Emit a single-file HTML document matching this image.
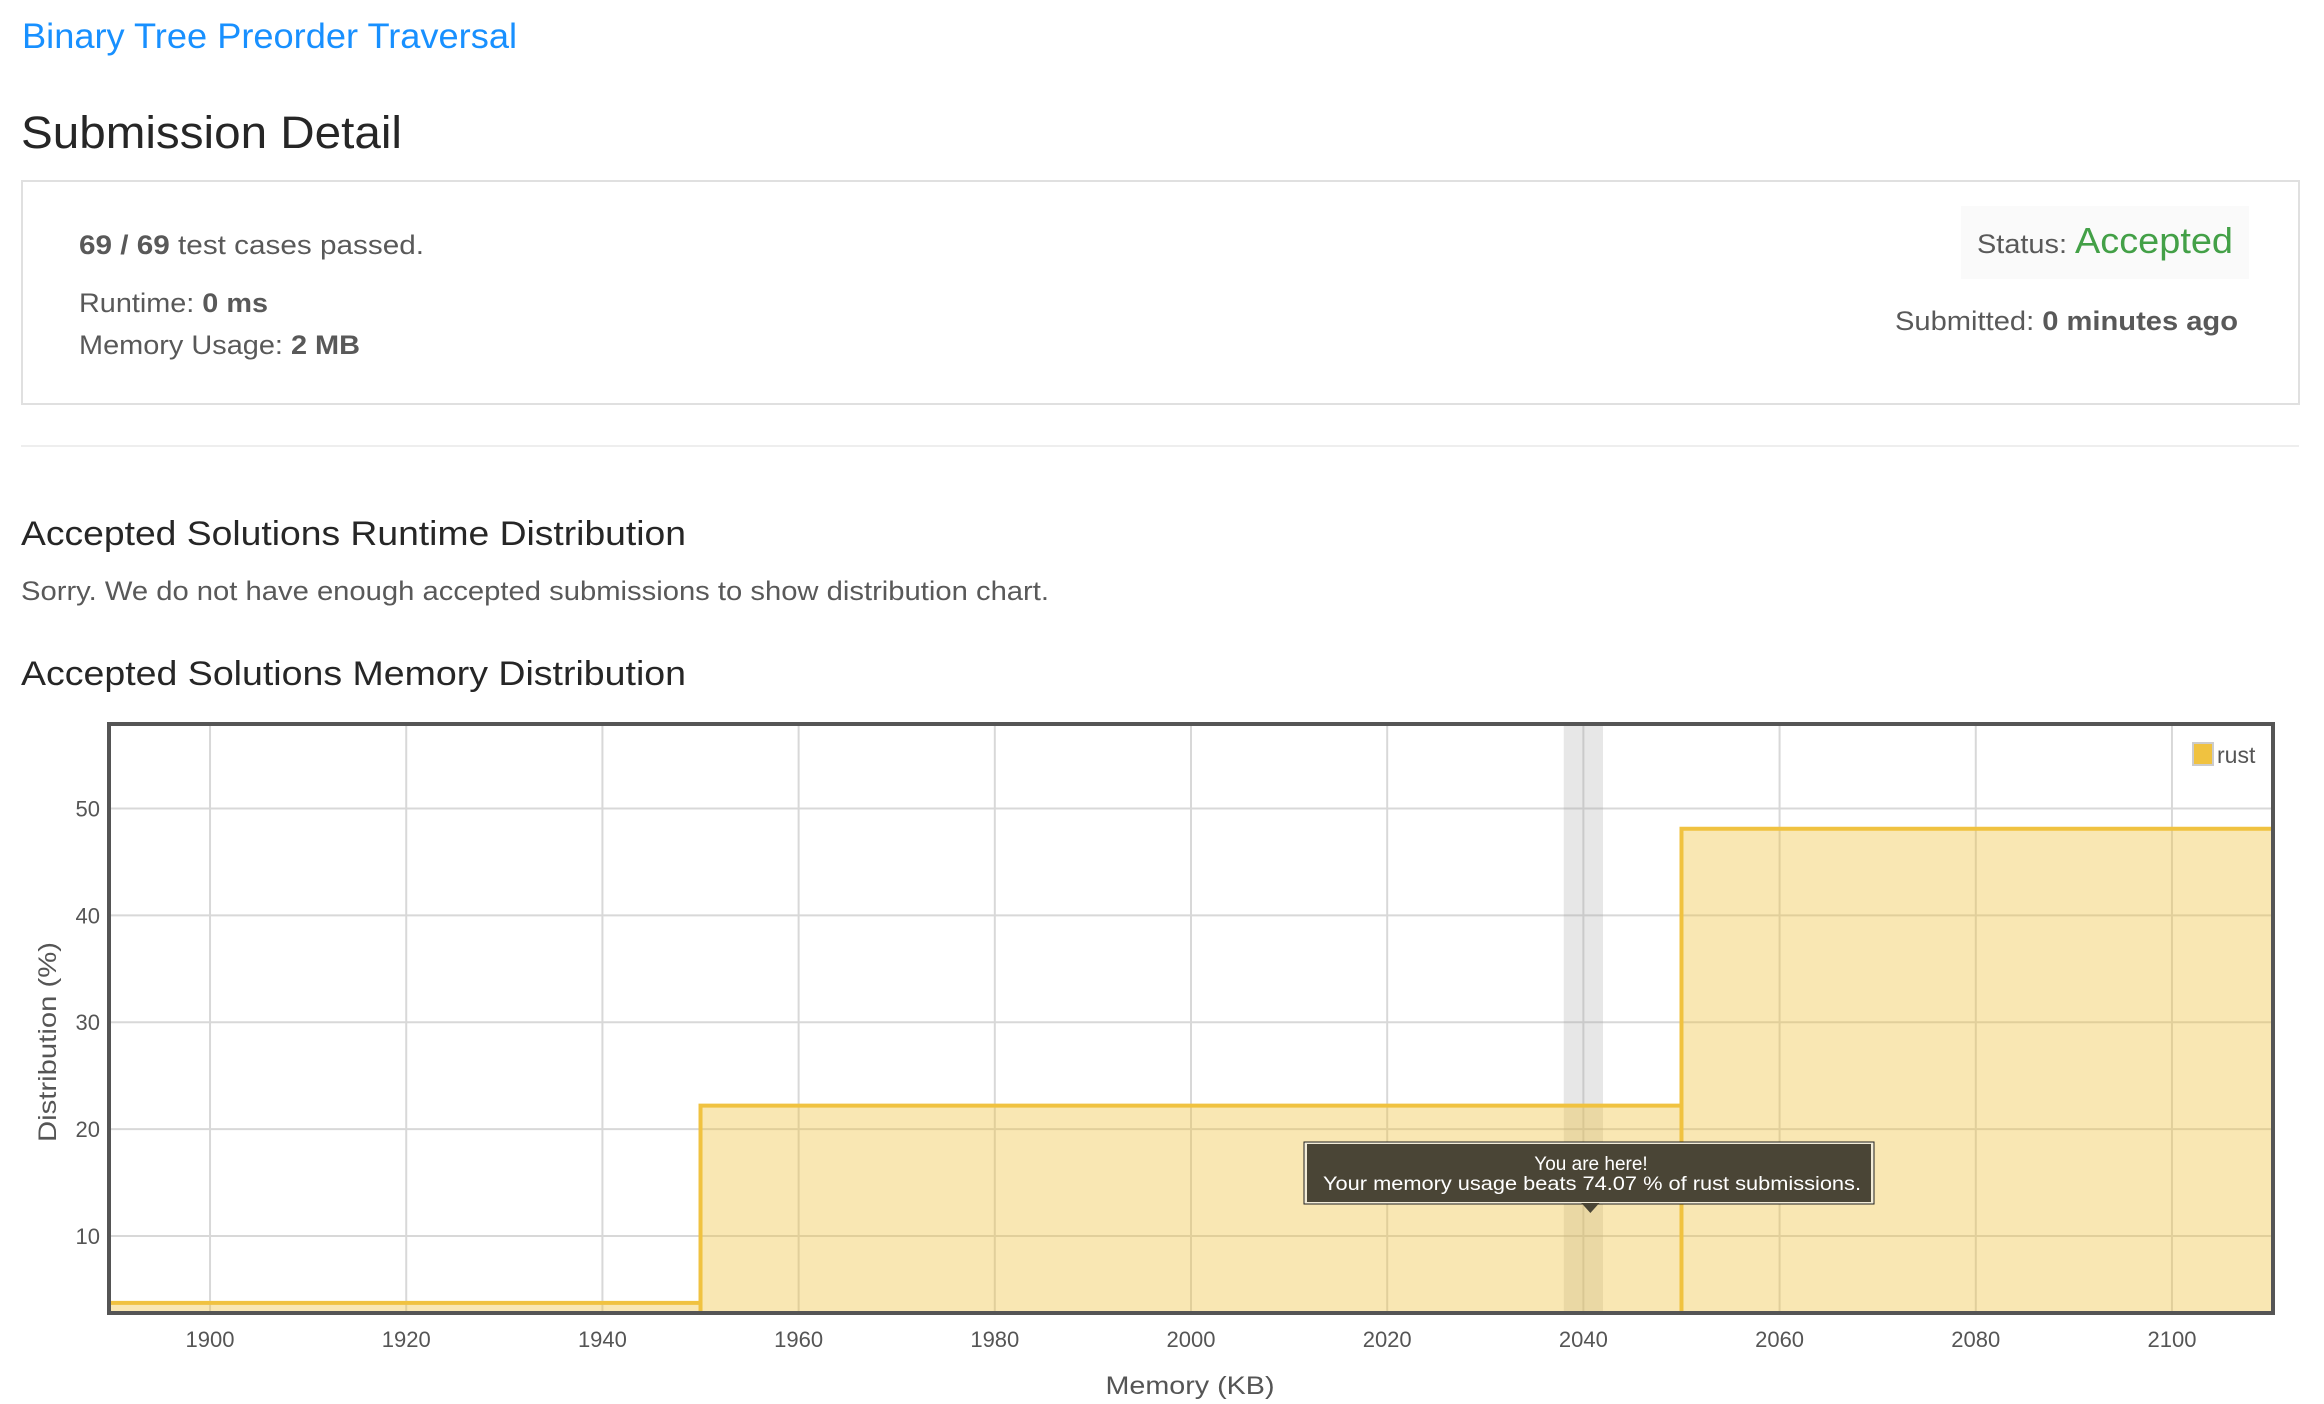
<!DOCTYPE html>
<html><head><meta charset="utf-8"><style>
html,body{margin:0;padding:0;background:#fff;}
svg{display:block;font-family:"Liberation Sans",sans-serif;}
</style></head><body>
<svg id="page" width="2324" height="1404" viewBox="0 0 2324 1404">
<text x="22" y="48" font-size="35" fill="#1890ff" textLength="495" lengthAdjust="spacingAndGlyphs">Binary Tree Preorder Traversal</text>
<text x="21" y="148" font-size="45" fill="#262626" textLength="381" lengthAdjust="spacingAndGlyphs">Submission Detail</text>
<rect x="22" y="181" width="2277" height="223" fill="#fff" stroke="#e0e0e0" stroke-width="2"/>
<text x="79" y="254" font-size="27" fill="#595959" textLength="345" lengthAdjust="spacingAndGlyphs"><tspan font-weight="bold">69 / 69</tspan> test cases passed.</text>
<text x="79" y="312" font-size="27" fill="#595959" textLength="189" lengthAdjust="spacingAndGlyphs">Runtime: <tspan font-weight="bold">0 ms</tspan></text>
<text x="79" y="354" font-size="27" fill="#595959" textLength="281" lengthAdjust="spacingAndGlyphs">Memory Usage: <tspan font-weight="bold">2 MB</tspan></text>
<rect x="1961" y="206" width="288" height="73" fill="#fafafa"/>
<text x="1977" y="253" font-size="27" fill="#595959" textLength="90" lengthAdjust="spacingAndGlyphs">Status:</text>
<text x="2075" y="253" font-size="36" fill="#43a047" textLength="158" lengthAdjust="spacingAndGlyphs">Accepted</text>
<text x="1895" y="330" font-size="27" fill="#595959" textLength="343" lengthAdjust="spacingAndGlyphs">Submitted: <tspan font-weight="bold">0 minutes ago</tspan></text>
<rect x="21" y="445" width="2278" height="2" fill="#eee"/>
<text x="21" y="545" font-size="34" fill="#262626" textLength="665" lengthAdjust="spacingAndGlyphs">Accepted Solutions Runtime Distribution</text>
<text x="21" y="600" font-size="27" fill="#595959" textLength="1028" lengthAdjust="spacingAndGlyphs">Sorry. We do not have enough accepted submissions to show distribution chart.</text>
<text x="21" y="685" font-size="34" fill="#262626" textLength="665" lengthAdjust="spacingAndGlyphs">Accepted Solutions Memory Distribution</text>
<g id="chart"></g>
</svg>
<script>
const binStarts = [1880, 1950, 2050];
const binEnds = [1950, 2050, 2150];
const binValues = [3.75, 22.2, 48.1];
const xTicks = [1900, 1920, 1940, 1960, 1980, 2000, 2020, 2040, 2060, 2080, 2100];
const yTicks = [10, 20, 30, 40, 50];
const userMemory = [2040];
const userBandHalf = [2];
const tooltipLines = ["You are here!", "Your memory usage beats 74.07 % of rust submissions."];

const NS = "http://www.w3.org/2000/svg";
const L = 109, R = 2273, T = 724, B = 1313;
const xMin = 1889.7, xMax = 2110.3, yMin = 2.8, yMax = 57.9;
const xs = v => L + (v - xMin) / (xMax - xMin) * (R - L);
const ys = v => B - (v - yMin) / (yMax - yMin) * (B - T);
const clampX = v => Math.max(L, Math.min(R, v));
const g = document.getElementById('chart');
function mk(tag, attrs, parent) {
  const e = document.createElementNS(NS, tag);
  for (const k in attrs) e.setAttribute(k, attrs[k]);
  (parent || g).appendChild(e);
  return e;
}
const clip = mk('clipPath', {id: 'plotclip'});
mk('rect', {x: L, y: T, width: R - L, height: B - T}, clip);

xTicks.forEach(v => {
  const l = mk('line', {x1: xs(v), x2: xs(v), y1: T, y2: B, stroke: '#d8d8d8', 'stroke-width': 2});
  
  
  const t = mk('text', {x: xs(v), y: 1347, 'font-size': 22, fill: '#555', 'text-anchor': 'middle'});
  t.textContent = v;
  
  
});
yTicks.forEach(v => {
  const l = mk('line', {x1: L, x2: R, y1: ys(v), y2: ys(v), stroke: '#d8d8d8', 'stroke-width': 2});
  
  
  const t = mk('text', {x: 100, y: ys(v) + 8, 'font-size': 22, fill: '#555', 'text-anchor': 'end'});
  t.textContent = v;
  
  
});

const band = mk('rect', {x: xs(userMemory[0] - userBandHalf[0]), y: T, width: xs(userMemory[0] + userBandHalf[0]) - xs(userMemory[0] - userBandHalf[0]), height: B - T, fill: 'rgba(160,160,160,0.25)'});



binValues.forEach((v, i) => {
  const x0 = clampX(xs(binStarts[i])), x1 = clampX(xs(binEnds[i]));
  const r = mk('rect', {x: x0, y: ys(v), width: x1 - x0, height: B - ys(v), fill: 'rgba(240,194,64,0.4)', 'clip-path': 'url(#plotclip)'});
  
  
});
let d = '';
binValues.forEach((v, i) => {
  const x0 = clampX(xs(binStarts[i])), x1 = clampX(xs(binEnds[i]));
  d += (i === 0 ? 'M' + x0 + ' ' + ys(v) : ' L' + x0 + ' ' + ys(v)) + ' L' + x1 + ' ' + ys(v);
});
binValues.forEach((v, i) => {
  if (i > 0) {
    const x0 = xs(binStarts[i]);
    d += ' M' + x0 + ' ' + B + ' L' + x0 + ' ' + Math.min(ys(v), ys(binValues[i - 1]));
  }
});
const st = mk('path', {d: d, fill: 'none', stroke: '#f0c240', 'stroke-width': 4, 'clip-path': 'url(#plotclip)'});



const frame = mk('rect', {x: L, y: T, width: R - L, height: B - T, fill: 'none', stroke: '#555', 'stroke-width': 4});



const lg = mk('rect', {x: 2193, y: 743, width: 20, height: 22, fill: '#f0c240', stroke: '#ccc', 'stroke-width': 2});


const lt = mk('text', {x: 2217, y: 763, 'font-size': 23, fill: '#555'});
lt.textContent = 'rust';



const yt = mk('text', {x: 0, y: 0, 'font-size': 25, fill: '#555', 'text-anchor': 'middle', transform: 'translate(56,1042) rotate(-90)', textLength: 200, lengthAdjust: 'spacingAndGlyphs'});
yt.textContent = 'Distribution (%)';


const xt = mk('text', {x: 1190, y: 1394, 'font-size': 25, fill: '#555', 'text-anchor': 'middle', textLength: 169, lengthAdjust: 'spacingAndGlyphs'});
xt.textContent = 'Memory (KB)';



const tipX = xs(userMemory[0]) + 7;
const tip = mk('g', {});


mk('rect', {x: 1304, y: 1142, width: 570, height: 62, fill: '#f3ecd8', stroke: '#222', 'stroke-width': 1}, tip);
mk('rect', {x: 1307, y: 1144, width: 564, height: 58, fill: '#4a4536'}, tip);
mk('path', {d: 'M' + (tipX - 9) + ' 1203 L' + (tipX + 9) + ' 1203 L' + tipX + ' 1213 Z', fill: '#4a4536'}, tip);
const t1 = mk('text', {x: 1591, y: 1170, 'font-size': 19, fill: '#fff', 'text-anchor': 'middle'}, tip);
t1.textContent = tooltipLines[0];
const t2 = mk('text', {x: 1592, y: 1190, 'font-size': 19, fill: '#fff', 'text-anchor': 'middle', textLength: 538, lengthAdjust: 'spacingAndGlyphs'}, tip);
t2.textContent = tooltipLines[1];
</script>
</body></html>
